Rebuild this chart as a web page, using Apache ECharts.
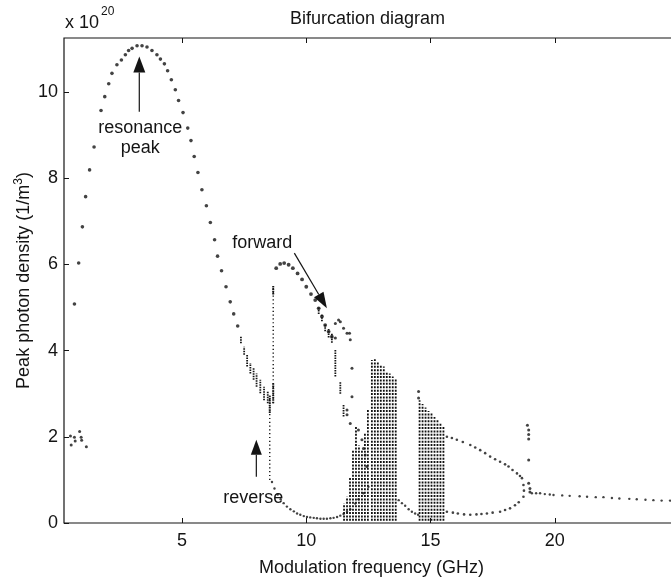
<!DOCTYPE html>
<html>
<head>
<meta charset="utf-8">
<script src="https://cdn.jsdelivr.net/npm/echarts@6/dist/echarts.min.js"></script>
<style>
  html, body { margin: 0; padding: 0; background: #fff; }
  #chart { width: 671px; height: 577px; }
</style>
</head>
<body>
<div id="chart"></div>
<script>
// ---- tick positions ----
const xTicks = [5, 10, 15, 20];
const yTicks = [0, 2, 4, 6, 8, 10];

// ---- peak photon density (x 1e20 1/m^3) versus modulation frequency (GHz) ----
// period-1 peak over the relaxation-oscillation resonance
const resonanceBranch = [
  [0.67, 5.08], [0.84, 6.03], [0.99, 6.87], [1.12, 7.57], [1.28, 8.19], [1.46, 8.72],
  [1.74, 9.57], [1.89, 9.89], [2.05, 10.19], [2.18, 10.43], [2.38, 10.63], [2.56, 10.74],
  [2.72, 10.86], [2.85, 10.96], [2.99, 11.01], [3.19, 11.07], [3.39, 11.07], [3.59, 11.04],
  [3.79, 10.96], [3.99, 10.86], [4.13, 10.76], [4.29, 10.65], [4.42, 10.49], [4.57, 10.28],
  [4.73, 10.05], [4.86, 9.80], [5.04, 9.52], [5.23, 9.16], [5.36, 8.87], [5.49, 8.50],
  [5.64, 8.13], [5.80, 7.73], [5.98, 7.36], [6.14, 6.97], [6.31, 6.57], [6.43, 6.19],
  [6.59, 5.85], [6.77, 5.48], [6.94, 5.13], [7.08, 4.85], [7.24, 4.57]
];
// multi-peak response at low frequency
const lowFreqPeaks = [
  [0.51, 2.02], [0.54, 1.81], [0.67, 1.99], [0.70, 1.90], [0.88, 2.12], [0.94, 1.99],
  [0.96, 1.92], [1.15, 1.77]
];
// short spreads of the descending branch: [f, low, high]
const cascadeColumns = [
  [7.37, 4.17, 4.32], [7.50, 3.90, 4.09], [7.62, 3.63, 3.90], [7.75, 3.47, 3.71],
  [7.88, 3.32, 3.59], [8.00, 3.16, 3.47], [8.15, 3.01, 3.32], [8.30, 2.85, 3.16],
  [8.45, 2.78, 3.05]
];
// hysteresis jumps: [f, low, high]
const jumpColumns = [[8.53, 1.00, 2.95], [8.67, 2.78, 5.50]];
const jumpEnds = [[8.67, 5.30, 5.50], [8.67, 2.78, 3.25], [8.53, 2.55, 2.95]];
// upper branch after the jump (forward sweep)
const forwardBranch = [
  [8.79, 5.91], [8.95, 6.01], [9.11, 6.03], [9.29, 5.99], [9.46, 5.91], [9.65, 5.79],
  [9.83, 5.65], [10.00, 5.48], [10.19, 5.31], [10.36, 5.17], [10.50, 4.98], [10.63, 4.79],
  [10.76, 4.59], [10.90, 4.44], [11.03, 4.32]
];
const forwardSplits = [
  [10.50, 4.85, 5.00], [10.63, 4.68, 4.83], [10.76, 4.45, 4.62], [10.90, 4.30, 4.50],
  [11.03, 4.18, 4.40], [11.17, 3.40, 4.01], [11.37, 3.00, 3.28], [11.50, 2.47, 2.74]
];
const breakupPoints = [
  [11.17, 4.63], [11.17, 4.29], [11.30, 4.71], [11.37, 4.67], [11.50, 4.52], [11.64, 4.40],
  [11.74, 4.40], [11.77, 4.25], [11.64, 2.62], [11.64, 2.51], [11.77, 2.31], [11.84, 2.93],
  [11.84, 3.59], [12.10, 2.16], [12.24, 1.93], [12.30, 1.73], [12.37, 1.58], [12.44, 1.31],
  [14.52, 3.05], [14.52, 2.90]
];
// lower branch (reverse sweep)
const reverseBranch = [
  [8.62, 0.95], [8.72, 0.80], [8.85, 0.66], [8.97, 0.55], [9.09, 0.46], [9.22, 0.38],
  [9.36, 0.32], [9.50, 0.27], [9.63, 0.22], [9.76, 0.19], [9.90, 0.16], [10.03, 0.14],
  [10.16, 0.13], [10.30, 0.12], [10.43, 0.11], [10.57, 0.10], [10.70, 0.10], [10.83, 0.10],
  [10.97, 0.11], [11.10, 0.12], [11.24, 0.14], [11.37, 0.17], [11.50, 0.21], [11.64, 0.26],
  [11.77, 0.32], [11.97, 0.45], [12.10, 0.55], [12.30, 0.69], [12.50, 0.84]
];
// chaotic windows: [f, low, high]
const chaosBandA = [
  [11.52, 0.05, 0.45], [11.64, 0.05, 0.61], [11.76, 0.05, 1.07], [11.88, 0.05, 1.69],
  [12.00, 0.05, 2.23], [12.12, 0.05, 1.80], [12.24, 0.05, 1.69], [12.36, 0.05, 2.10],
  [12.48, 0.05, 2.62], [12.64, 0.05, 3.78], [12.76, 0.05, 3.80], [12.88, 0.05, 3.73],
  [13.00, 0.05, 3.66], [13.12, 0.05, 3.63], [13.24, 0.05, 3.52], [13.36, 0.05, 3.47],
  [13.48, 0.05, 3.40], [13.60, 0.05, 3.36]
];
const chaosBandB = [
  [14.56, 0.05, 2.85], [14.68, 0.05, 2.76], [14.80, 0.05, 2.68], [14.92, 0.05, 2.60],
  [15.04, 0.05, 2.54], [15.16, 0.05, 2.46], [15.28, 0.05, 2.40], [15.40, 0.05, 2.32],
  [15.52, 0.05, 2.24]
];
// period-1 tail between the chaotic windows
const interBandTail = [
  [13.72, 0.53], [13.85, 0.46], [13.98, 0.40], [14.12, 0.32], [14.25, 0.26], [14.38, 0.22],
  [14.50, 0.19]
];
// period-2 loop
const period2Upper = [
  [15.66, 2.00], [15.86, 1.97], [16.06, 1.93], [16.30, 1.88], [16.60, 1.81], [16.80, 1.75],
  [17.00, 1.69], [17.20, 1.62], [17.40, 1.54], [17.60, 1.48], [17.80, 1.42], [18.00, 1.36],
  [18.14, 1.31], [18.30, 1.23], [18.48, 1.15], [18.60, 1.09], [18.68, 1.04], [18.74, 0.88]
];
const period2Lower = [
  [15.66, 0.26], [15.90, 0.24], [16.10, 0.22], [16.35, 0.20], [16.60, 0.19], [16.85, 0.20],
  [17.05, 0.21], [17.27, 0.22], [17.50, 0.24], [17.80, 0.26], [18.00, 0.30], [18.20, 0.34],
  [18.40, 0.41], [18.55, 0.48], [18.74, 0.61], [18.76, 0.75]
];
// scatter at the period-2 to period-1 transition
const transitionPoints = [
  [18.90, 2.27], [18.95, 2.16], [18.95, 2.05], [18.95, 1.95], [18.95, 1.46], [18.95, 0.92],
  [19.00, 0.80], [19.00, 0.72]
];
// period-1 response above 19 GHz
const highFreqTail = [
  [19.08, 0.69], [19.25, 0.69], [19.41, 0.69], [19.60, 0.67], [19.80, 0.66], [19.95, 0.65],
  [20.30, 0.64], [20.60, 0.63], [21.00, 0.62], [21.30, 0.61], [21.65, 0.60], [21.96, 0.60],
  [22.30, 0.58], [22.60, 0.57], [23.00, 0.56], [23.30, 0.55], [23.65, 0.54], [23.97, 0.53],
  [24.30, 0.52], [24.64, 0.52]
];

const FONT = '"Liberation Sans", Arial, Helvetica, sans-serif';
const INK = '#141414';

function dots(data, size) {
  return { type: 'scatter', data: data, symbol: 'circle', symbolSize: size,
           itemStyle: { color: INK }, silent: true, clip: true };
}
function columns(data, width, dash, color) {
  return {
    type: 'custom', data: data, silent: true, clip: true,
    encode: { x: 0, y: [1, 2] },
    renderItem: function (params, api) {
      const a = api.coord([api.value(0), api.value(1)]);
      const b = api.coord([api.value(0), api.value(2)]);
      return { type: 'line', shape: { x1: a[0], y1: a[1], x2: b[0], y2: b[1] },
               style: { stroke: color, lineWidth: width, lineDash: dash } };
    }
  };
}

const chart = echarts.init(document.getElementById('chart'));
chart.setOption({
  animation: false,
  textStyle: { fontFamily: FONT },
  title: {
    text: 'Bifurcation diagram', left: 285, top: 5,
    textStyle: { fontSize: 18, fontWeight: 'normal', color: INK, fontFamily: FONT }
  },
  // the frame runs on past the right edge of the page
  grid: {
    left: 64, top: 38, width: 615, bottom: 54, outerBoundsMode: 'none',
    show: true, borderColor: INK, borderWidth: 1.2
  },
  xAxis: [{
    type: 'value', min: 0.25, max: 25, position: 'bottom',
    axisLine: { show: false }, splitLine: { show: false },
    axisTick: { inside: true, length: 5, customValues: xTicks, lineStyle: { color: INK } },
    axisLabel: { customValues: xTicks, fontSize: 18, color: INK, margin: 9, fontFamily: FONT },
    name: 'Modulation frequency (GHz)', nameLocation: 'middle', nameGap: 36, nameMoveOverlap: false,
    nameTextStyle: { fontSize: 18, color: INK, fontFamily: FONT }
  }, {
    type: 'value', min: 0.25, max: 25, position: 'top',
    axisLine: { show: false }, splitLine: { show: false }, axisLabel: { show: false },
    axisTick: { inside: true, length: 5, customValues: xTicks, lineStyle: { color: INK } }
  }],
  yAxis: {
    type: 'value', min: 0, max: 11.25,
    axisLine: { show: false }, splitLine: { show: false },
    axisTick: { inside: true, length: 5, customValues: yTicks, lineStyle: { color: INK } },
    axisLabel: { customValues: yTicks, fontSize: 18, color: INK, margin: 6, fontFamily: FONT },
    name: 'Peak photon density (1/m{sup|3})', nameLocation: 'middle', nameGap: 29, nameMoveOverlap: false,
    nameTextStyle: {
      fontSize: 18, color: INK, fontFamily: FONT,
      rich: { sup: { fontSize: 12, color: INK, fontFamily: FONT, verticalAlign: 'top', padding: [0, 0, 10, 0] } }
    }
  },
  series: [
    columns(chaosBandA, 1.8, [2, 1.4], '#111'),
    columns(chaosBandB, 1.8, [2, 1.4], '#111'),
    columns(jumpColumns, 1.4, [1.2, 2.6], INK),
    columns(jumpEnds, 2, [1.5, 0.8], INK),
    columns(cascadeColumns, 1.8, [1.5, 1], INK),
    columns(forwardSplits, 1.8, [1.5, 1], INK),
    dots(resonanceBranch, 3.6),
    dots(lowFreqPeaks, 3),
    dots(forwardBranch, 3.8),
    dots(breakupPoints, 3),
    dots(reverseBranch, 2.4),
    dots(interBandTail, 2.4),
    dots(period2Upper, 2.6),
    dots(period2Lower, 2.6),
    dots(transitionPoints, 3),
    dots(highFreqTail, 2.4)
  ]
});

// ---- annotations, anchored in data coordinates ----
function px(f, v) { return chart.convertToPixel({ gridIndex: 0 }, [f, v]); }
function arrow(from, to, headLen, headWidth) {
  const a = px(from[0], from[1]), b = px(to[0], to[1]);
  const dx = b[0] - a[0], dy = b[1] - a[1];
  const len = Math.sqrt(dx * dx + dy * dy), ux = dx / len, uy = dy / len;
  const bx = b[0] - ux * headLen, by = b[1] - uy * headLen;
  return [
    { type: 'line', silent: true, shape: { x1: a[0], y1: a[1], x2: bx, y2: by },
      style: { stroke: INK, lineWidth: 1.2 } },
    { type: 'polygon', silent: true,
      shape: { points: [[b[0], b[1]],
                        [bx - uy * headWidth / 2, by + ux * headWidth / 2],
                        [bx + uy * headWidth / 2, by - ux * headWidth / 2]] },
      style: { fill: INK } }
  ];
}
function label(text, f, v) {
  const p = px(f, v);
  return { type: 'text', silent: true, x: p[0], y: p[1],
           style: { text: text, fill: INK, font: '18px ' + FONT, align: 'center', verticalAlign: 'middle' } };
}

const graphics = [].concat(
  arrow([3.28, 9.54], [3.28, 10.82], 16, 12),
  arrow([9.52, 6.26], [10.83, 4.98], 16, 11),
  arrow([7.99, 1.07], [7.99, 1.93], 15, 11),
  [
    label('resonance', 3.32, 9.16),
    label('peak', 3.32, 8.70),
    label('forward', 8.23, 6.50),
    label('reverse', 7.87, 0.58),
    { type: 'text', silent: true, left: 65, top: 14,
      style: { text: 'x 10', fill: INK, font: '18px ' + FONT } },
    { type: 'text', silent: true, left: 101, top: 6,
      style: { text: '20', fill: INK, font: '12px ' + FONT } }
  ]
);
chart.setOption({ graphic: graphics });
</script>
</body>
</html>
